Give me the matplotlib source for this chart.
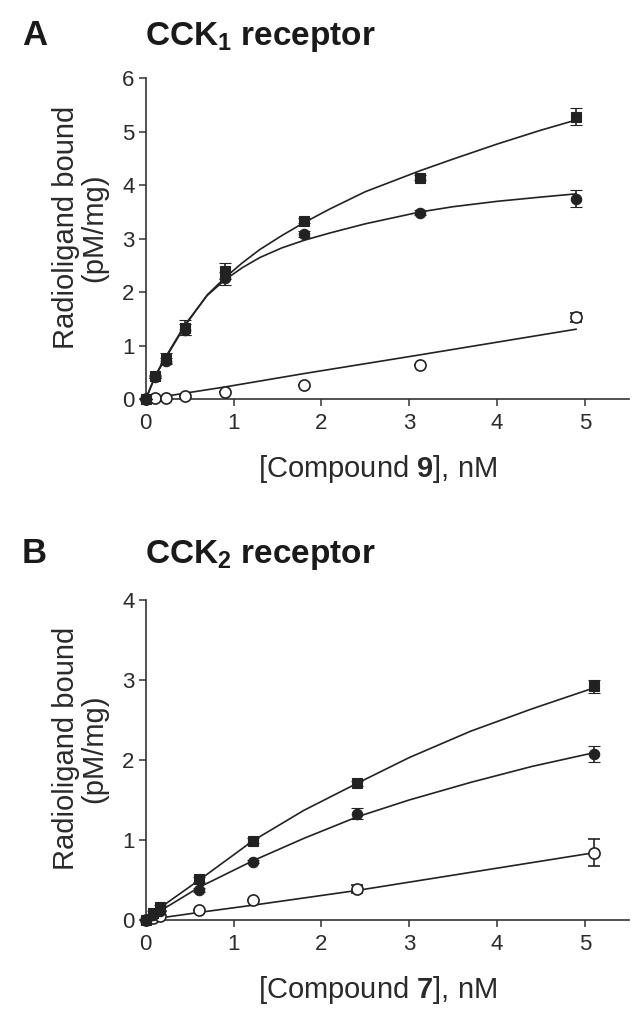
import matplotlib
matplotlib.use("Agg")
import matplotlib.pyplot as plt

plt.rcParams['font.family'] = ['Liberation Sans', 'DejaVu Sans']
plt.rcParams['mathtext.fontset'] = 'custom'
plt.rcParams['mathtext.rm'] = 'Liberation Sans'
plt.rcParams['mathtext.bf'] = 'Liberation Sans:bold'
plt.rcParams['mathtext.it'] = 'Liberation Sans:italic'

# ---------------- Panel A data (CCK1, compound 9) ----------------
xA = [0, 0.11, 0.23, 0.45, 0.9, 1.8, 3.12, 4.9]
totalA = [0, 0.43, 0.76, 1.34, 2.40, 3.34, 4.14, 5.28]
totalA_err = [0, 0.03, 0.10, 0.14, 0.15, 0.05, 0.05, 0.16]
specA = [0, 0.41, 0.72, 1.30, 2.26, 3.09, 3.49, 3.75]
specA_err = [0, 0.02, 0.05, 0.10, 0.12, 0.05, 0.04, 0.16]
nsA = [0, 0.02, 0.03, 0.06, 0.13, 0.27, 0.635, 1.53]
nsA_err = [0, 0, 0, 0, 0, 0, 0, 0.09]

curveA_x = [0, 0.11, 0.23, 0.45, 0.7, 0.9, 1.1, 1.3, 1.55, 1.8, 2.1, 2.5, 3.12, 3.5, 4.0, 4.5, 4.9]
curveA_total = [0, 0.43, 0.78, 1.38, 1.95, 2.27, 2.55, 2.80, 3.06, 3.30, 3.56, 3.88, 4.27, 4.49, 4.77, 5.03, 5.22]
curveA_spec = [0, 0.45, 0.80, 1.40, 1.94, 2.23, 2.46, 2.65, 2.83, 2.97, 3.11, 3.28, 3.50, 3.60, 3.70, 3.78, 3.84]
curveA_ns_x = [0, 0.9, 1.8, 3.12, 4.9]
curveA_ns = [0, 0.23, 0.48, 0.83, 1.31]

# ---------------- Panel B data (CCK2, compound 7) ----------------
xB = [0, 0.08, 0.16, 0.61, 1.22, 2.41, 5.1]
totalB = [0, 0.09, 0.16, 0.51, 0.99, 1.71, 2.92]
totalB_err = [0, 0.02, 0.03, 0.03, 0.03, 0.03, 0.08]
specB = [0, 0.06, 0.11, 0.375, 0.73, 1.33, 2.08]
specB_err = [0, 0, 0, 0.02, 0.02, 0.07, 0.10]
nsB = [0, 0.02, 0.05, 0.12, 0.25, 0.385, 0.84]
nsB_err = [0, 0, 0, 0, 0, 0.05, 0.17]

curveB_x = [0, 0.08, 0.16, 0.61, 1.22, 1.8, 2.41, 3.0, 3.7, 4.4, 5.1]
curveB_total = [0, 0.08, 0.15, 0.50, 0.99, 1.37, 1.71, 2.03, 2.36, 2.64, 2.90]
curveB_spec = [0, 0.06, 0.11, 0.41, 0.74, 1.02, 1.29, 1.50, 1.72, 1.92, 2.09]
curveB_ns_x = [0, 0.61, 1.22, 2.41, 5.1]
curveB_ns = [0, 0.095, 0.185, 0.37, 0.84]

panel_letters = ['A', 'B']
titles = [r'CCK$_\mathbf{1}$ receptor', r'CCK$_\mathbf{2}$ receptor']
xlabels = [r'[Compound $\mathbf{9}$], nM', r'[Compound $\mathbf{7}$], nM']
ylabel = 'Radioligand bound\n(pM/mg)'
yticksA = [0, 1, 2, 3, 4, 5, 6]
yticksB = [0, 1, 2, 3, 4]
xticks = [0, 1, 2, 3, 4, 5]

W, H = 641, 1018
fig = plt.figure(figsize=(W / 100, H / 100), dpi=100)
fig.patch.set_facecolor('white')

TXT = '#2a2a2a'
LINE = '#222222'


def px_axes(left, top, right, bottom):
    return fig.add_axes([left / W, 1 - bottom / H, (right - left) / W, (bottom - top) / H])


axA = px_axes(145.7, 78.3, 628.7, 399.3)
axB = px_axes(145.7, 600.0, 628.7, 920.0)

panels = [
    (axA, xA, totalA, totalA_err, specA, specA_err, nsA, nsA_err,
     curveA_x, curveA_total, curveA_spec, curveA_ns_x, curveA_ns, yticksA),
    (axB, xB, totalB, totalB_err, specB, specB_err, nsB, nsB_err,
     curveB_x, curveB_total, curveB_spec, curveB_ns_x, curveB_ns, yticksB),
]

for i, (ax, x, tot, tot_e, sp, sp_e, ns, ns_e, cx, ctot, csp, cnx, cns, yt) in enumerate(panels):
    ax.set_facecolor('white')
    # fitted curves
    for cxx, cyy in ((cx, ctot), (cx, csp), (cnx, cns)):
        ax.plot(cxx, cyy, color=LINE, lw=1.2, zorder=2, clip_on=False)
    # data with error bars
    ekw = dict(ecolor=LINE, elinewidth=1.2, capsize=4.5, capthick=1.2, ls='none', clip_on=False)
    ax.errorbar(x, ns, yerr=ns_e, fmt='o', ms=8, mfc='white', mec=LINE, mew=1.2, zorder=3, **ekw)
    ax.errorbar(x, sp, yerr=sp_e, fmt='o', ms=7.5, mfc=LINE, mec=LINE, mew=0.8, zorder=4, **ekw)
    ax.errorbar(x, tot, yerr=tot_e, fmt='s', ms=7.5, mfc=LINE, mec=LINE, mew=0.8, zorder=5, **ekw)

    ax.set_xlim(0, 5.5)
    ax.set_ylim(0, yt[-1])
    ax.set_xticks(xticks)
    ax.set_yticks(yt)
    for s in ('top', 'right'):
        ax.spines[s].set_visible(False)
    for s in ('left', 'bottom'):
        ax.spines[s].set_color('#333333')
        ax.spines[s].set_linewidth(1.2)
    ax.tick_params(direction='out', length=5, width=1.1, color='#333333',
                   labelsize=16, labelcolor=TXT)
    ax.tick_params(axis='x', pad=5)
    ax.tick_params(axis='y', pad=3)

    ax.set_ylabel(ylabel, fontsize=21, color=TXT, linespacing=1.0, va='center')
    ax.yaxis.set_label_coords(-0.136, 0.535)
    ax.set_xlabel(xlabels[i], fontsize=21, color=TXT, va='baseline')
    h = 321 if i == 0 else 320
    ax.xaxis.set_label_coords(0.481, -78 / h)

# panel letters and titles
for i, base in enumerate([45, 563]):
    fig.text(22 / W, 1 - base / H, panel_letters[i], fontsize=25, fontweight='bold',
             color='#1a1a1a', va='baseline', ha='left')
    fig.text(145 / W, 1 - base / H, titles[i], fontsize=24, fontweight='bold',
             color='#1a1a1a', va='baseline', ha='left')

fig.savefig('out.png', dpi=100, facecolor='white')
